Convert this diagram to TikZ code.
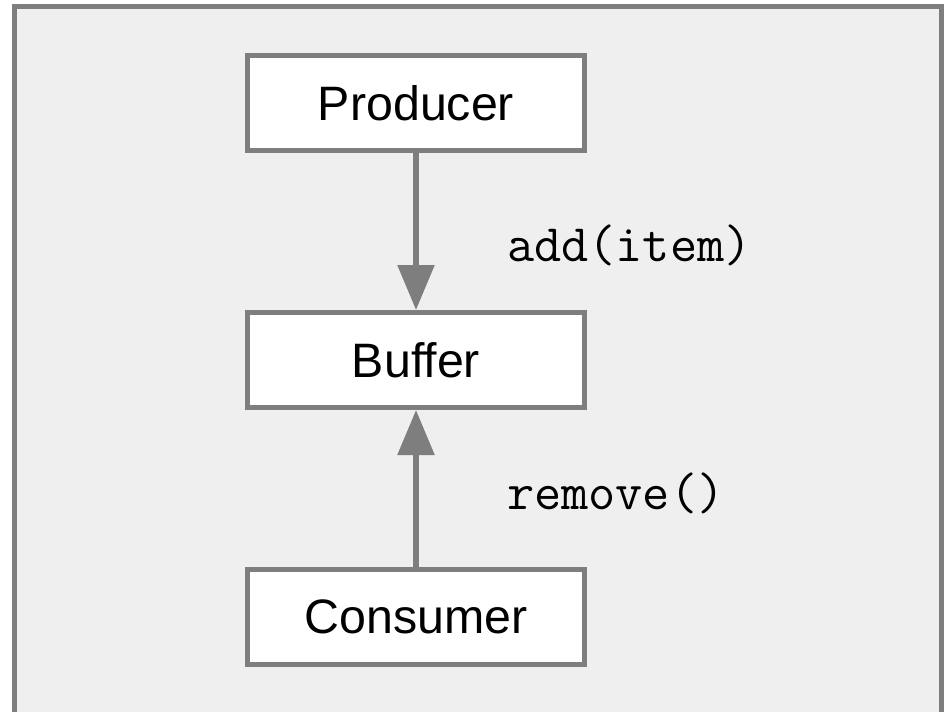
\documentclass[tikz,border=0pt]{standalone}
\usepackage{fontspec}
\usepackage{xcolor}
\usepackage{tikz}
\usetikzlibrary{positioning,arrows.meta}

\newfontfamily\boxfont[Ligatures=NoCommon]{Liberation Sans}

\definecolor{panelgray}{HTML}{EFEFEF}
\definecolor{linegray}{HTML}{7E7E7E}

\begin{document}
\begin{tikzpicture}[
    node distance=3.14cm,
    block/.style={draw=linegray, line width=0.1cm, fill=white,
        minimum width=6.74cm, minimum height=1.9cm,
        font=\boxfont\fontsize{27.5}{30}\selectfont},
    call/.style={anchor=west, font=\ttfamily\fontsize{30}{32}\selectfont},
    link/.style={draw=linegray, line width=0.11cm,
        -{Triangle[length=0.9cm, width=0.72cm]}}
]
    \useasboundingbox (0,0) rectangle (18.94,14.22);

    % panel with its frame (open at the bottom)
    \fill[panelgray] (0.29,-0.2) rectangle (18.83,14.09);
    \draw[linegray, line width=0.1cm] (0.29,-0.2) -- (0.29,14.09) -- (18.83,14.09) -- (18.83,-0.2);

    \node[block] (producer) at (8.32,12.16) {Producer};
    \node[block, below=of producer] (buffer) {Buffer};
    \node[block, below=of buffer] (consumer) {Consumer};

    \draw[link] (producer) -- (buffer);
    \draw[link] (consumer) -- (buffer);

    \node[call] (addcall) at (10.02,9.32) {add(item)};
    \node[call] (removecall) at (10.02,4.36) {remove()};
\end{tikzpicture}
\end{document}
